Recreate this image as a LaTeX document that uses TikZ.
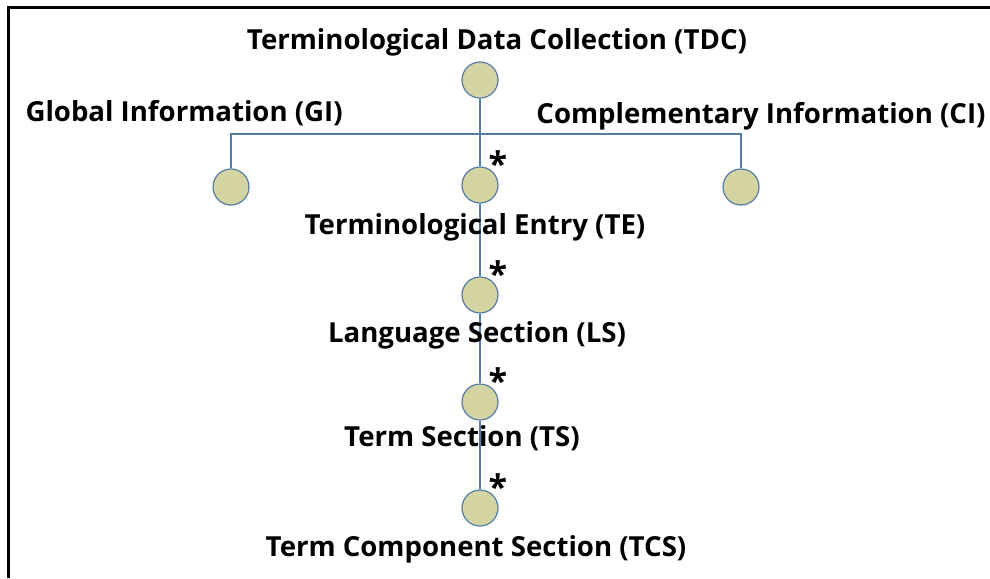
\documentclass[tikz,border=0pt]{standalone}
\usepackage{fontspec}
\setmainfont{Open Sans}
\usetikzlibrary{backgrounds}
\definecolor{linkblue}{RGB}{84,124,166}
\definecolor{nodekhaki}{RGB}{211,212,161}
\tikzset{
    dot/.style={circle,draw=linkblue,fill=nodekhaki,line width=1.2pt,minimum size=36pt,inner sep=0pt},
    lbl/.style={anchor=base,font=\bfseries\fontsize{27.6}{30}\selectfont},
    mult/.style={font=\bfseries\fontsize{34}{34}\selectfont,inner sep=0pt},
    link/.style={draw=linkblue,line width=1.3pt}
}
\begin{document}
\begin{tikzpicture}[x=1pt,y=-1pt]
        \useasboundingbox (0,0) rectangle (990,578);
        %% frame
        \draw[line width=3pt] (8,578) -- (8,8) -- (990,8);
        %% nodes
        \node[dot] (tdc) at (480,80) {};
        \node[dot] (gi) at (231,187) {};
        \node[dot] (te) at (480,185) {};
        \node[dot] (ci) at (741,187) {};
        \node[dot] (ls) at (480,295) {};
        \node[dot] (ts) at (480,402) {};
        \node[dot] (tcs) at (480,508) {};
        \coordinate (bar) at (480,134);
        %% labels
        \node[lbl] (tdc-l) at (497,49) {Terminological Data Collection (TDC)};
        \node[lbl,anchor=base west] (gi-l) at (22,121) {Global Information (GI)};
        \node[lbl] (ci-l) at (761,123) {Complementary Information (CI)};
        \node[lbl] (te-l) at (475,234) {Terminological Entry (TE)};
        \node[lbl] (ls-l) at (477,342) {Language Section (LS)};
        \node[lbl] (ts-l) at (462,446) {Term Section (TS)};
        \node[lbl] (tcs-l) at (476,556) {Term Component Section (TCS)};
        %% multiplicity
        \foreach \n in {te,ls,ts,tcs}
            \node[mult] (\n-m) at ([shift={(18,-21)}]\n.center) {*};
        %% tree
        \begin{scope}[on background layer]
            \path[link] (gi) |- (bar) -| (ci);
            \path[link] (tdc) -- (te) -- (ls) -- (ts) -- (tcs);
        \end{scope}
    \end{tikzpicture}
\end{document}
